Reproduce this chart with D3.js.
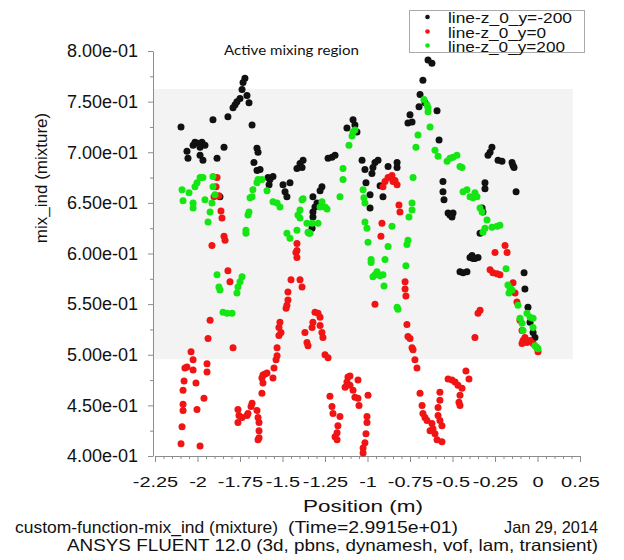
<!DOCTYPE html>
<html>
<head>
<meta charset="utf-8">
<script src="https://cdn.jsdelivr.net/npm/d3@7"></script>
<style>
  html, body { margin: 0; padding: 0; background: #fff; }
  svg { display: block; }
  text { font-family: "Liberation Sans", Arial, sans-serif; fill: #111; }
</style>
</head>
<body>
<div id="chart"></div>
<script>
// ---------------- data ----------------
const seriesNames = ["line-z_0_y=-200", "line-z_0_y=0", "line-z_0_y=200"];

const xTickValues = [-2.25, -2, -1.75, -1.5, -1.25, -1, -0.75, -0.5, -0.25, 0, 0.25];
const xTickLabels = ["-2.25", "-2", "-1.75", "-1.5", "-1.25", "-1", "-0.75", "-0.5", "-0.25", "0", "0.25"];
const yTickValues = [0.40, 0.45, 0.50, 0.55, 0.60, 0.65, 0.70, 0.75, 0.80];
const yTickLabels = ["4.00e-01", "4.50e-01", "5.00e-01", "5.50e-01", "6.00e-01", "6.50e-01", "7.00e-01", "7.50e-01", "8.00e-01"];

// active mixing region extents (data units)
const regionX = [-2.25, 0.207];
const regionY = [0.4957, 0.7625];

// y = -200 (black)
const dataYm200 = [
[-1.721,0.773],[-1.732,0.769],[-1.738,0.762],[-1.709,0.756],[-1.750,0.753],[-1.768,0.750],[-1.779,0.747],
[-1.697,0.749],[-1.791,0.744],[-1.821,0.735],[-1.679,0.727],[-1.909,0.732],[-2.097,0.725],[-2.015,0.710],
[-1.997,0.709],[-1.974,0.710],[-1.956,0.707],[-1.985,0.705],[-2.026,0.707],[-2.062,0.701],[-1.985,0.697],
[-2.056,0.694],[-1.968,0.692],[-1.885,0.694],[-1.844,0.705],[-1.650,0.704],[-1.644,0.700],[-1.668,0.690],
[-1.650,0.682],[-1.632,0.683],[-1.585,0.675],[-1.556,0.676],[-1.574,0.673],[-1.579,0.668],[-1.497,0.668],
[-1.485,0.661],[-1.456,0.670],[-1.474,0.656],[-1.415,0.684],[-1.397,0.689],[-1.379,0.692],[-1.385,0.685],
[-1.868,0.656],[-1.268,0.666],[-1.279,0.662],[-1.321,0.656],[-1.297,0.650],[-1.309,0.646],[-1.321,0.641],
[-1.321,0.636],[-1.326,0.625],[-1.232,0.694],[-1.209,0.695],[-1.191,0.697],[-1.121,0.724],[-1.085,0.732],
[-1.074,0.727],[-1.062,0.720],[-1.032,0.692],[-1.015,0.683],[-0.956,0.690],[-0.938,0.692],[-0.968,0.685],
[-0.974,0.679],[-0.879,0.686],[-0.826,0.690],[-0.826,0.685],[-1.009,0.670],[-0.926,0.667],[-0.985,0.658],
[-0.909,0.656],[-0.985,0.645],[-0.762,0.729],[-0.750,0.737],[-0.738,0.730],[-0.697,0.745],[-0.691,0.757],
[-0.662,0.749],[-0.674,0.771],[-0.644,0.791],[-0.621,0.788],[-0.591,0.741],[-0.579,0.712],[-0.556,0.671],
[-0.556,0.661],[-0.550,0.653],[-0.526,0.640],[-0.515,0.638],[-0.497,0.640],[-0.503,0.636],[-0.309,0.670],
[-0.309,0.664],[-0.326,0.645],[-0.321,0.641],[-0.338,0.620],[-0.385,0.598],[-0.379,0.595],[-0.268,0.705],
[-0.279,0.700],[-0.291,0.697],[-0.232,0.692],[-0.209,0.691],[-0.150,0.690],[-0.144,0.687],[-0.138,0.685],
[-0.126,0.661],[-0.397,0.596],[-0.368,0.595],[-0.350,0.596],[-0.456,0.582],[-0.438,0.581],[-0.415,0.582],
[-0.079,0.581],[-0.074,0.565],[-0.056,0.547],[-0.044,0.532],[-0.026,0.522],[-0.015,0.517]
];

// y = 0 (red)
const dataY0 = [
[-1.885,0.675],[-1.891,0.666],[-1.874,0.657],[-1.903,0.656],[-1.862,0.642],[-1.856,0.635],[-1.844,0.617],
[-1.838,0.613],[-1.915,0.608],[-1.821,0.583],[-1.809,0.572],[-1.926,0.534],[-1.938,0.516],[-1.791,0.507],
[-2.038,0.503],[-2.026,0.495],[-2.062,0.488],[-2.074,0.487],[-2.026,0.485],[-1.944,0.491],[-1.944,0.483],
[-2.079,0.474],[-2.085,0.465],[-2.009,0.472],[-1.962,0.457],[-2.085,0.451],[-2.085,0.445],[-2.003,0.446],
[-2.091,0.429],[-2.097,0.412],[-1.985,0.410],[-1.762,0.446],[-1.756,0.440],[-1.762,0.433],[-1.738,0.438],
[-1.709,0.440],[-1.703,0.442],[-1.679,0.452],[-1.685,0.449],[-1.650,0.445],[-1.644,0.438],[-1.638,0.433],
[-1.638,0.425],[-1.638,0.418],[-1.644,0.416],[-1.621,0.477],[-1.615,0.480],[-1.603,0.481],[-1.591,0.482],
[-1.615,0.472],[-1.621,0.462],[-1.556,0.477],[-1.550,0.487],[-1.538,0.495],[-1.532,0.499],[-1.532,0.507],
[-1.521,0.519],[-1.509,0.522],[-1.521,0.527],[-1.515,0.532],[-1.479,0.546],[-1.474,0.549],[-1.468,0.554],
[-1.468,0.562],[-1.450,0.574],[-1.415,0.596],[-1.421,0.601],[-1.415,0.610],[-1.415,0.603],[-1.397,0.574],
[-1.385,0.567],[-1.368,0.522],[-1.356,0.512],[-1.350,0.509],[-1.309,0.542],[-1.291,0.541],[-1.279,0.537],
[-1.321,0.532],[-1.326,0.527],[-1.279,0.529],[-1.268,0.522],[-1.262,0.517],[-1.250,0.500],[-1.232,0.497],
[-1.115,0.478],[-1.103,0.479],[-1.121,0.473],[-1.132,0.468],[-1.103,0.470],[-1.085,0.465],[-1.074,0.458],
[-1.056,0.457],[-1.050,0.450],[-1.056,0.475],[-0.997,0.460],[-1.221,0.459],[-1.209,0.449],[-1.203,0.442],
[-1.162,0.439],[-1.174,0.430],[-1.179,0.423],[-1.191,0.419],[-1.179,0.416],[-1.003,0.439],[-1.003,0.433],
[-1.009,0.422],[-1.015,0.413],[-1.026,0.408],[-1.026,0.403],[-0.956,0.550],[-0.779,0.572],[-0.779,0.565],
[-0.774,0.558],[-0.768,0.530],[-0.762,0.518],[-0.750,0.516],[-0.738,0.507],[-0.732,0.505],[-0.721,0.495],
[-0.709,0.487],[-0.897,0.671],[-0.879,0.675],[-0.856,0.677],[-0.838,0.672],[-0.826,0.668],[-0.909,0.666],
[-0.850,0.671],[-0.815,0.648],[-0.809,0.641],[-0.915,0.630],[-0.921,0.617],[-0.691,0.462],[-0.679,0.450],
[-0.674,0.442],[-0.662,0.438],[-0.650,0.435],[-0.632,0.425],[-0.621,0.432],[-0.615,0.427],[-0.603,0.422],
[-0.591,0.416],[-0.562,0.414],[-0.574,0.463],[-0.574,0.455],[-0.585,0.448],[-0.585,0.440],[-0.574,0.435],
[-0.562,0.430],[-0.526,0.476],[-0.503,0.475],[-0.485,0.473],[-0.468,0.470],[-0.444,0.467],[-0.456,0.460],
[-0.462,0.453],[-0.456,0.450],[-0.421,0.484],[-0.403,0.476],[-0.250,0.601],[-0.191,0.608],[-0.179,0.601],
[-0.279,0.584],[-0.262,0.581],[-0.238,0.580],[-0.221,0.579],[-0.144,0.571],[-0.132,0.561],[-0.121,0.552],
[-0.338,0.544],[-0.350,0.541],[-0.368,0.517],[-0.103,0.534],[-0.091,0.524],[-0.085,0.514],[-0.062,0.512],
[-0.074,0.517],[-0.044,0.514],[-0.026,0.511],[-0.091,0.511],[-0.003,0.507],[0.003,0.503]
];

// y = 200 (green)
const dataY200 = [
[-2.091,0.663],[-2.050,0.660],[-2.085,0.652],[-2.026,0.650],[-2.026,0.645],[-1.985,0.675],[-1.968,0.675],
[-2.003,0.670],[-2.015,0.666],[-1.909,0.676],[-1.909,0.666],[-1.897,0.658],[-1.915,0.650],[-1.956,0.653],
[-1.926,0.641],[-1.938,0.631],[-1.885,0.579],[-1.874,0.567],[-1.868,0.564],[-1.738,0.577],[-1.750,0.572],
[-1.762,0.567],[-1.768,0.561],[-1.850,0.542],[-1.826,0.541],[-1.797,0.541],[-1.644,0.673],[-1.621,0.673],
[-1.650,0.670],[-1.591,0.662],[-1.674,0.663],[-1.679,0.656],[-1.691,0.655],[-1.697,0.641],[-1.703,0.638],
[-1.715,0.623],[-1.715,0.620],[-1.556,0.651],[-1.532,0.650],[-1.515,0.646],[-1.474,0.620],[-1.456,0.615],
[-1.415,0.623],[-1.397,0.635],[-1.409,0.638],[-1.397,0.643],[-1.379,0.654],[-1.356,0.630],[-1.344,0.620],
[-1.385,0.653],[-1.326,0.630],[-1.291,0.630],[-1.338,0.620],[-1.350,0.621],[-1.268,0.651],[-1.250,0.646],
[-1.238,0.644],[-1.279,0.646],[-1.144,0.684],[-1.144,0.673],[-1.162,0.656],[-1.074,0.722],[-1.085,0.720],
[-1.091,0.716],[-1.109,0.707],[-1.026,0.663],[-1.021,0.655],[-1.015,0.650],[-1.015,0.631],[-1.003,0.625],
[-0.997,0.611],[-0.979,0.594],[-0.979,0.591],[-0.897,0.594],[-0.956,0.579],[-0.944,0.582],[-0.926,0.578],
[-0.909,0.579],[-0.968,0.577],[-0.903,0.568],[-0.826,0.547],[-0.821,0.545],[-0.856,0.627],[-0.879,0.607],
[-0.774,0.588],[-0.738,0.650],[-0.738,0.643],[-0.756,0.636],[-0.762,0.613],[-0.768,0.609],[-0.732,0.675],
[-0.703,0.717],[-0.715,0.705],[-0.668,0.752],[-0.650,0.747],[-0.644,0.744],[-0.644,0.740],[-0.632,0.725],
[-0.603,0.702],[-0.585,0.696],[-0.532,0.691],[-0.515,0.694],[-0.497,0.695],[-0.474,0.697],[-0.456,0.686],
[-0.444,0.685],[-0.438,0.661],[-0.415,0.663],[-0.397,0.656],[-0.379,0.655],[-0.368,0.660],[-0.356,0.656],
[-0.338,0.645],[-0.326,0.641],[-0.297,0.633],[-0.309,0.625],[-0.321,0.621],[-0.268,0.626],[-0.238,0.627],
[-0.221,0.628],[-0.185,0.585],[-0.174,0.569],[-0.162,0.566],[-0.168,0.561],[-0.150,0.564],[-0.115,0.549],
[-0.062,0.541],[-0.044,0.537],[-0.026,0.536],[-0.103,0.536],[-0.091,0.531],[-0.085,0.524],[-0.026,0.527],
[-0.015,0.509],[-0.003,0.507],[0.003,0.506]
];

const seriesData = [dataYm200, dataY0, dataY200];
const seriesColors = ["#111111", "#f01414", "#14e614"];

// ---------------- drawing ----------------
const W = 624, H = 560;
const svg = d3.select("#chart").append("svg").attr("width", W).attr("height", H);

const x = d3.scaleLinear().domain([-2.25, 0.25]).range([155, 580]);
const y = d3.scaleLinear().domain([0.4, 0.8]).range([456, 51]);

// active region background
svg.append("rect")
  .attr("x", x(regionX[0]) - 1)
  .attr("y", y(regionY[1]))
  .attr("width", x(regionX[1]) - x(regionX[0]) + 1)
  .attr("height", y(regionY[0]) - y(regionY[1]))
  .attr("fill", "#f3f3f3");

const axisColor = "#8c8c8c";
const yAxisX = 153;

// y minor ticks
const yMinor = d3.range(0.425, 0.8, 0.05);
svg.append("g").attr("transform", `translate(${yAxisX},0)`)
  .call(d3.axisLeft(y).tickValues(yMinor).tickSize(3).tickSizeOuter(0).tickFormat(""))
  .call(g => g.select(".domain").remove())
  .call(g => g.selectAll("line").attr("stroke", axisColor));
// y major
const yAxisG = svg.append("g").attr("transform", `translate(${yAxisX},0)`)
  .call(d3.axisLeft(y).tickValues(yTickValues).tickSize(5).tickSizeOuter(0).tickPadding(10)
        .tickFormat((d, i) => yTickLabels[i]));
yAxisG.select(".domain").attr("stroke", axisColor);
yAxisG.selectAll("line").attr("stroke", axisColor);
yAxisG.selectAll("text").style("font-size", "18px").attr("fill", "#111")
  .style("font-family", "'Liberation Sans', Arial, sans-serif");

// x minor ticks
const xMinor = d3.range(-2.25, 0.2501, 0.05).filter(v => Math.abs(v / 0.25 - Math.round(v / 0.25)) > 0.01);
const xAxisY = 456;
svg.append("g").attr("transform", `translate(0,${xAxisY})`)
  .call(d3.axisBottom(x).tickValues(xMinor).tickSize(3).tickSizeOuter(0).tickFormat(""))
  .call(g => g.select(".domain").remove())
  .call(g => g.selectAll("line").attr("stroke", axisColor));
const xAxisG = svg.append("g").attr("transform", `translate(0,${xAxisY})`)
  .call(d3.axisBottom(x).tickValues(xTickValues).tickSize(6).tickSizeOuter(0).tickPadding(14)
        .tickFormat((d, i) => xTickLabels[i]));
xAxisG.select(".domain").attr("stroke", axisColor);
xAxisG.selectAll("line").attr("stroke", axisColor);
xAxisG.selectAll("text").style("font-size", "15px").attr("fill", "#111")
  .style("font-family", "'Liberation Sans', Arial, sans-serif")
  .attr("transform", "scale(1.33,1)");

// points
seriesData.forEach((data, si) => {
  svg.append("g").selectAll("circle").data(data).join("circle")
    .attr("cx", d => x(d[0]))
    .attr("cy", d => y(d[1]))
    .attr("r", 3.5)
    .attr("fill", seriesColors[si]);
});

// title
svg.append("text").attr("x", 224).attr("y", 55)
  .style("font-family", "Lato, 'Open Sans', sans-serif").style("font-size", "14px")
  .attr("textLength", 135).attr("lengthAdjust", "spacingAndGlyphs")
  .text("Active mixing region");

// axis titles
svg.append("text")
  .attr("transform", "translate(47,178) rotate(-90)")
  .attr("text-anchor", "middle")
  .style("font-size", "17px")
  .text("mix_ind (mixture)");

svg.append("text").attr("x", 303).attr("y", 512)
  .style("font-size", "17px")
  .attr("textLength", 120).attr("lengthAdjust", "spacingAndGlyphs")
  .text("Position (m)");

// footer
const foot = svg.append("g").style("font-size", "16.5px");
foot.append("text").attr("x", 15).attr("y", 533).attr("textLength", 263).attr("lengthAdjust", "spacingAndGlyphs")
  .text("custom-function-mix_ind (mixture)");
foot.append("text").attr("x", 288).attr("y", 533).attr("textLength", 170).attr("lengthAdjust", "spacingAndGlyphs")
  .text("(Time=2.9915e+01)");
foot.append("text").attr("x", 504).attr("y", 533).attr("textLength", 94).attr("lengthAdjust", "spacingAndGlyphs")
  .text("Jan 29, 2014");
foot.append("text").attr("x", 67).attr("y", 551).attr("textLength", 531).attr("lengthAdjust", "spacingAndGlyphs")
  .text("ANSYS FLUENT 12.0 (3d, pbns, dynamesh, vof, lam, transient)");

// legend
const lg = svg.append("g");
lg.append("rect").attr("x", 409.5).attr("y", 10.5).attr("width", 175).attr("height", 42)
  .attr("fill", "#fff").attr("stroke", "#aaa").attr("stroke-width", 1);
const legendRowY = [17, 31.5, 45.5];
const legendWidths = [124, 98, 117];
seriesNames.forEach((name, i) => {
  lg.append("circle").attr("cx", 427.5).attr("cy", legendRowY[i]).attr("r", 2.3).attr("fill", seriesColors[i]);
  lg.append("text").attr("x", 448).attr("y", legendRowY[i] + 6)
    .style("font-size", "15px")
    .attr("textLength", legendWidths[i]).attr("lengthAdjust", "spacingAndGlyphs")
    .text(name);
});
</script>
</body>
</html>
